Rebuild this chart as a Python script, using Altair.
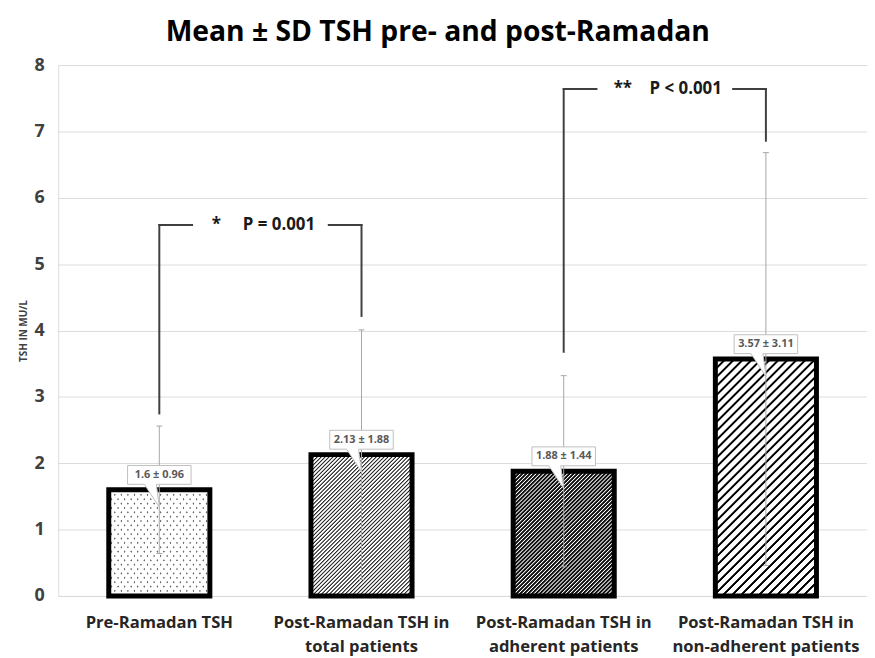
import math
import altair as alt
import pandas as pd

# ---------------- data ----------------
categories = [
    "Pre-Ramadan TSH",
    "Post-Ramadan TSH in|total patients",
    "Post-Ramadan TSH in|adherent patients",
    "Post-Ramadan TSH in|non-adherent patients",
]
means = [1.6, 2.13, 1.88, 3.57]
sds = [0.96, 1.88, 1.44, 3.11]
value_labels = ["1.6 ± 0.96", "2.13 ± 1.88", "1.88 ± 1.44", "3.57 ± 3.11"]

sig_left = [categories[0], categories[2]]
sig_right = [categories[1], categories[3]]
sig_top = [5.59, 7.64]
sig_left_bottom = [2.75, 3.68]
sig_right_bottom = [4.22, 6.86]
sig_text = ["*\u00a0\u00a0\u00a0\u00a0\u00a0P = 0.001", "**\u00a0\u00a0\u00a0\u00a0P < 0.001"]

Y_MAX = 8

# ---------------- layout ----------------
FONT = "Open Sans"
W, H = 815, 535
PX_PER_UNIT = H / Y_MAX
STEP = W / (len(categories) - 0.5 + 2 * 0.25)
BW = STEP * 0.5

df = pd.DataFrame({
    "cat": categories,
    "mean": means,
    "sd": sds,
    "label": value_labels,
})
df["lo"] = df["mean"] - df["sd"]
df["hi"] = df["mean"] + df["sd"]

sig = pd.DataFrame({
    "a": sig_left, "b": sig_right, "top": sig_top,
    "a_bot": sig_left_bottom, "b_bot": sig_right_bottom, "txt": sig_text,
})


def stripe_gradient(w, h, direction, spacing, line_w, line_color, bg_color):
    """Linear gradient that draws parallel stripes along `direction` (screen px)."""
    dx, dy = direction
    nrm = math.hypot(dx, dy)
    nx, ny = dy / nrm, -dx / nrm
    corners = [(0, 0), (w, 0), (0, h), (w, h)]
    proj = [nx * X + ny * Y for X, Y in corners]
    pmin = min(proj)
    L = max(proj) - pmin
    X1, Y1 = corners[proj.index(pmin)]
    k = L / (w * w * nx * nx + h * h * ny * ny)
    a, b = k * w * nx, k * h * ny
    x1, y1 = X1 / w, Y1 / h
    ramp = 0.35
    stops = [(0.0, bg_color)]
    c = spacing / 2
    while c - line_w / 2 - ramp < L:
        s0 = c - line_w / 2 - ramp
        s1 = c - line_w / 2 + ramp
        s2 = c + line_w / 2 - ramp
        s3 = c + line_w / 2 + ramp
        if s2 < s1:
            s1 = s2 = c
        for off, col in ((s0, bg_color), (s1, line_color), (s2, line_color), (s3, bg_color)):
            o = min(max(off / L, 0.0), 1.0)
            if o >= stops[-1][0]:
                stops.append((o, col))
        c += spacing
    stops.append((1.0, bg_color))
    return alt.LinearGradient(
        gradient="linear",
        x1=x1, y1=y1, x2=x1 + a, y2=y1 + b,
        stops=[alt.GradientStop(color=col, offset=o) for o, col in stops],
    )


bar_h = [m * PX_PER_UNIT for m in means]

x_axis = alt.Axis(
    title=None, labelAngle=0, labelExpr="split(datum.label, '|')",
    labelFont=FONT, labelFontSize=16.7, labelFontWeight="bold", labelColor="#262626",
    labelLineHeight=24, labelPadding=19, labelLimit=300, ticks=False,
    domain=True, domainColor="#d9d9d9", domainWidth=1, grid=False,
)
y_axis = alt.Axis(
    title="TSH IN MU/L", titleFont=FONT, titleFontSize=10, titleFontWeight="bold",
    titleColor="#404040", titlePadding=6,
    labelFont=FONT, labelFontSize=18, labelFontWeight="bold", labelColor="#404040",
    labelPadding=14, ticks=False, domain=False, values=list(range(0, Y_MAX + 1)),
    grid=True, gridColor="#dcdcdc", gridWidth=1,
)
x_enc = alt.X("cat:N", sort=categories, axis=x_axis,
              scale=alt.Scale(domain=categories, paddingInner=0.5, paddingOuter=0.25))
y_scale = alt.Scale(domain=[0, Y_MAX], nice=False)


def y_enc(field):
    return alt.Y(f"{field}:Q", scale=y_scale, axis=y_axis)


def x_sig(field):
    return alt.X(f"{field}:N", sort=categories, scale=alt.Scale(domain=categories), axis=x_axis)


base = alt.Chart(df)
layers = []

# bar 1: dotted (two crossing diagonal stripe sets)
dots_a = stripe_gradient(BW, bar_h[0], (3.3, 4.4), 5.28, 1.5, "#6e6e6e", "#ffffff")
dots_b = stripe_gradient(BW, bar_h[0], (-3.3, 4.4), 5.28, 1.5, "rgba(255,255,255,0)", "#ffffff")
for g in (dots_a, dots_b):
    layers.append(base.transform_filter(alt.datum.cat == categories[0])
                  .mark_bar(fill=g, strokeWidth=0, opacity=1)
                  .encode(x=x_enc, y=y_enc("mean")))

# bars 2-4: diagonal hatching
hatch = [
    (1, 2.8, 1.1, "#2a2a2a"),
    (2, 2.8, 1.9, "#111111"),
    (3, 6.4, 2.0, "#000000"),
]
for i, sp, lw, col in hatch:
    g = stripe_gradient(BW, bar_h[i], (1, -1), sp, lw, col, "#ffffff")
    layers.append(base.transform_filter(alt.datum.cat == categories[i])
                  .mark_bar(fill=g, strokeWidth=0, opacity=1)
                  .encode(x=x_enc, y=y_enc("mean")))

# thick outlines
layers.append(base.mark_bar(fillOpacity=0, stroke="black", strokeWidth=5, strokeJoin="miter")
              .encode(x=x_enc, y=y_enc("mean")))

# error bars
err_col = "#a6a6a6"
layers.append(base.mark_rule(color=err_col, strokeWidth=1)
              .encode(x=x_enc, y=y_enc("lo"), y2="hi:Q"))
layers.append(base.mark_tick(color=err_col, size=6, thickness=1, opacity=1)
              .encode(x=x_enc, y=y_enc("lo")))
layers.append(base.mark_tick(color=err_col, size=6, thickness=1, opacity=1)
              .encode(x=x_enc, y=y_enc("hi")))

# data callouts
callout = "M-1,-0.297L1,-0.297L1,0.297L-0.094,0.297L0,1.016L-0.47,0.297L-1,0.297Z"
layers.append(base.mark_point(shape=callout, size=4096, filled=True, fill="white",
                              stroke="#bfbfbf", strokeWidth=1, opacity=1,
                              fillOpacity=1, strokeOpacity=1, yOffset=-15)
              .encode(x=x_enc, y=y_enc("mean")))
layers.append(base.mark_text(font=FONT, fontSize=11, fontWeight="bold", color="#595959",
                             baseline="middle", yOffset=-15)
              .encode(x=x_enc, y=y_enc("mean"), text="label:N"))

# significance brackets
sb = alt.Chart(sig)
br_col = "#404040"
layers.append(sb.mark_rule(color=br_col, strokeWidth=2, strokeCap="square")
              .encode(x=x_sig("a"), y=y_enc("a_bot"), y2="top:Q"))
layers.append(sb.mark_rule(color=br_col, strokeWidth=2, strokeCap="square")
              .encode(x=x_sig("b"), y=y_enc("b_bot"), y2="top:Q"))
layers.append(sb.mark_rule(color=br_col, strokeWidth=2, strokeCap="square", x2Offset=33)
              .encode(x=x_sig("a"), x2="a:N", y=y_enc("top")))
layers.append(sb.mark_rule(color=br_col, strokeWidth=2, strokeCap="square", xOffset=-33)
              .encode(x=x_sig("b"), x2="b:N", y=y_enc("top")))
layers.append(sb.mark_text(font=FONT, fontSize=17, fontWeight="bold", color="#1a1a1a",
                           baseline="middle", align="center", xOffset=STEP / 2 + 3)
              .encode(x=x_sig("a"), y=y_enc("top"), text="txt:N"))

chart = (
    alt.layer(*layers)
    .properties(
        width=W, height=H,
        autosize=alt.AutoSizeParams(type="none"),
        padding={"left": 50.6, "top": 55, "right": 0, "bottom": 59},
        title=alt.TitleParams(
            text="Mean ± SD TSH pre- and post-Ramadan", font=FONT, fontSize=28.5,
            fontWeight="bold", color="black", anchor="middle", dx=-25, offset=10,
        ),
    )
    .configure_view(strokeWidth=0)
    .configure(font=FONT)
)

chart.save("out.html", embed_options={"renderer": "svg", "actions": False})
